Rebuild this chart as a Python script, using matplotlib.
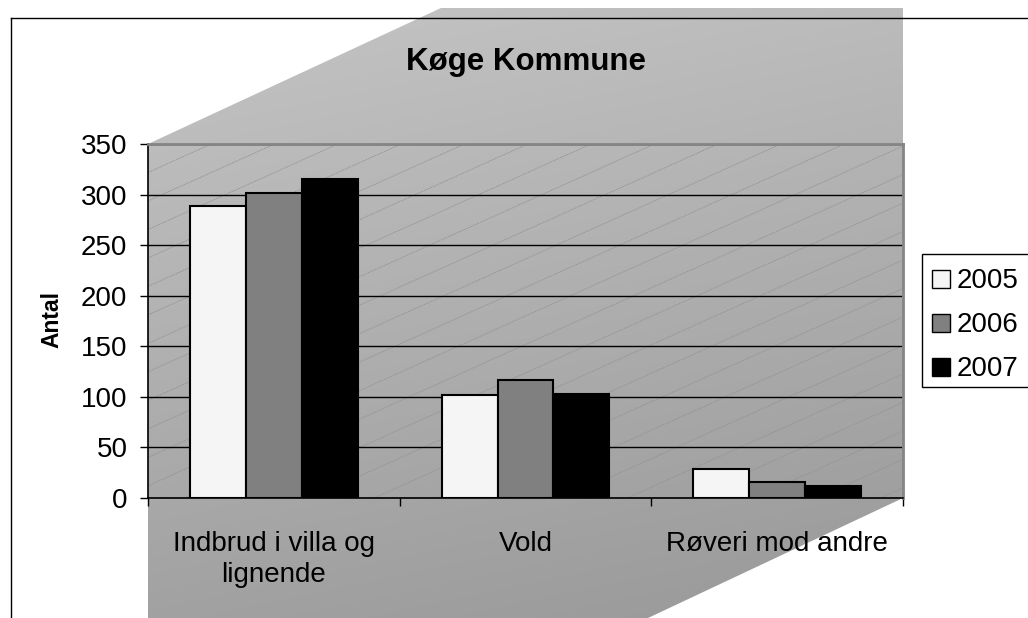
import numpy as np
import matplotlib
matplotlib.use("Agg")
import matplotlib.pyplot as plt
from matplotlib.patches import Polygon, Rectangle
from matplotlib.lines import Line2D

plt.rcParams['font.family'] = ['Liberation Sans', 'DejaVu Sans']

# ---- data ----
title = "Køge Kommune"
ylabel = "Antal"
categories = ["Indbrud i villa og\nlignende", "Vold", "Røveri mod andre"]
series_names = ["2005", "2006", "2007"]
values_2005 = [289, 102, 29]
values_2006 = [302, 117, 16]
values_2007 = [315, 103, 12]
yticks = [0, 50, 100, 150, 200, 250, 300, 350]

W, H = 1028, 618
fig = plt.figure(figsize=(W / 100, H / 100), dpi=100)

# ---- background layer in pixel coordinates ----
bg = fig.add_axes([0, 0, 1, 1])
bg.set_xlim(0, W)
bg.set_ylim(H, 0)
bg.axis('off')

yy, xx = np.mgrid[0:H, 0:W]
grad = 198.5 - 0.057 * yy - 0.0119 * xx
grad = np.clip(grad, 0, 255) / 255.0
img = bg.imshow(np.dstack([grad, grad, grad]), extent=(0, W, H, 0),
                origin='upper', aspect='auto', zorder=0, interpolation='bilinear')
poly = Polygon([(148, 144), (441, 8), (903, 8), (903, 498), (648, 618), (148, 618)],
               closed=True, facecolor='none', edgecolor='none')
bg.add_patch(poly)
img.set_clip_path(poly)

# diagonal hatch lines on the back wall
clip_rect = Rectangle((148, 144), 755, 354, facecolor='none', edgecolor='none')
bg.add_patch(clip_rect)
slope = 0.45
for k in range(0, 30):
    x0 = 148 + k * 63.3
    ln = Line2D([x0, x0 - 354 / slope], [144, 498], color='#939393', lw=0.6,
                linestyle=(0, (2, 1)), zorder=1)
    bg.add_line(ln)
    ln.set_clip_path(clip_rect)

# outer frame
bg.add_line(Line2D([11, 11], [18, H], color='black', lw=1.0, zorder=5))
bg.add_line(Line2D([11, W], [18, 18], color='black', lw=1.0, zorder=5))

# title
bg.text(526, 70, title, ha='center', va='baseline', fontsize=22.5,
        fontweight='bold', zorder=6)

# y label
bg.text(52, 319, ylabel, ha='center', va='center', rotation=90, fontsize=16.5,
        fontweight='bold', zorder=6)

# legend (manual)
bg.add_patch(Rectangle((922, 254), 160, 133, facecolor='white', edgecolor='black',
                       lw=1.0, zorder=6))
leg_colors = ['#f5f5f5', '#808080', '#000000']
for i, (name, c) in enumerate(zip(series_names, leg_colors)):
    cy = 279 + i * 44
    bg.add_patch(Rectangle((932, cy - 9), 18, 18, facecolor=c, edgecolor='black',
                           lw=1.0, zorder=7))
    bg.text(957, cy + 9.5, name, ha='left', va='baseline', fontsize=20, zorder=7)

# ---- main chart axes ----
ax = fig.add_axes([148 / W, 1 - 498 / H, 755 / W, 354 / H])
ax.set_facecolor('none')
x = np.arange(len(categories))
bw = 0.222
bar_colors = ['#f5f5f5', '#808080', '#000000']
for j, vals in enumerate([values_2005, values_2006, values_2007]):
    ax.bar(x + (j - 1) * bw, vals, width=bw, color=bar_colors[j],
           edgecolor='black', linewidth=1.5, zorder=3)

ax.set_xlim(-0.5, 2.5)
ax.set_ylim(0, 350)
ax.set_yticks(yticks)
ax.yaxis.grid(True, color='black', lw=1.0)
ax.set_axisbelow(True)

ax.set_xticks(x)
ax.set_xticklabels(categories, fontsize=20, linespacing=1.25)
ax.set_xticks([-0.5, 0.5, 1.5, 2.5], minor=True)
ax.tick_params(axis='x', which='major', length=0, pad=24)
ax.tick_params(axis='x', which='minor', length=5.8, width=1.0, direction='out')
ax.tick_params(axis='y', which='major', length=5.8, width=1.0, direction='out',
               labelsize=20, pad=9)

for s in ['left', 'bottom']:
    ax.spines[s].set_color('black')
    ax.spines[s].set_linewidth(1.2)
for s in ['top', 'right']:
    ax.spines[s].set_color('#858585')
    ax.spines[s].set_linewidth(2.0)

fig.savefig('out.png', dpi=100)
